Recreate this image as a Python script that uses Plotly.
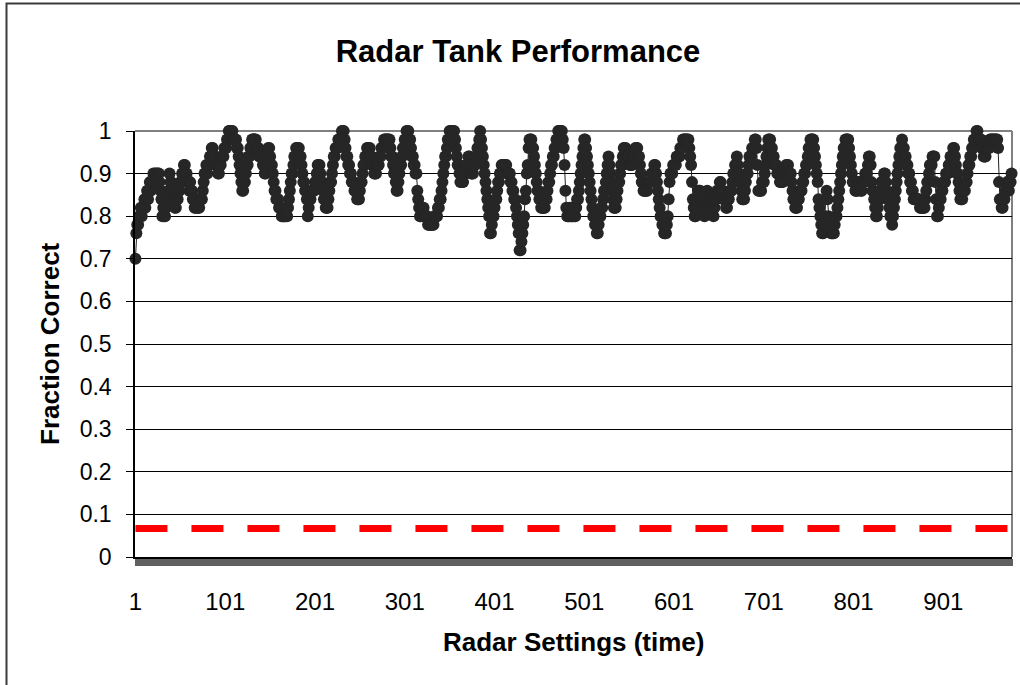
import plotly.graph_objects as go

# Fraction correct in percent, one value per radar setting
pct_correct = [
    70,76,78,78,80,80,82,80,82,82,
    84,82,84,86,84,86,88,86,88,88,
    90,88,90,90,88,90,90,88,86,84,
    80,82,80,80,82,84,84,86,90,88,
    88,86,84,84,82,82,84,84,86,86,
    88,88,90,90,92,92,90,90,88,88,
    86,88,86,86,84,84,82,82,84,82,
    82,82,84,84,84,86,88,90,90,92,
    90,92,92,94,94,96,96,94,94,94,
    92,92,90,90,92,92,94,94,94,96,
    96,96,98,98,100,100,100,100,100,98,
    98,98,98,96,96,94,92,90,88,86,
    86,88,88,90,92,92,94,94,96,96,
    98,98,98,98,98,96,96,96,94,94,
    94,94,92,92,90,90,92,94,96,96,
    94,92,92,90,88,86,86,84,84,84,
    82,82,82,80,80,80,80,80,82,80,
    82,84,86,88,90,90,92,94,94,96,
    96,96,96,94,94,92,90,88,88,86,
    86,84,80,82,84,84,86,86,86,86,
    88,88,90,92,92,92,90,88,88,86,
    84,84,82,82,82,84,86,88,88,90,
    92,94,94,96,96,96,98,98,98,98,
    100,100,100,98,96,94,94,92,92,90,
    90,88,88,88,86,86,86,84,84,84,
    86,88,88,90,92,92,94,94,96,96,
    96,96,94,94,92,92,90,90,90,92,
    92,92,94,94,96,96,96,98,98,98,
    98,98,98,98,96,94,94,92,90,90,
    88,86,86,88,90,92,92,94,96,96,
    98,98,100,100,100,98,98,96,94,94,
    92,92,90,90,86,84,82,80,80,82,
    82,82,80,80,80,80,78,78,78,78,
    78,78,78,80,80,80,80,82,82,84,
    84,86,88,90,92,94,94,96,98,98,
    100,100,100,100,100,100,98,96,94,92,
    92,90,88,88,88,88,90,90,92,92,
    92,94,94,92,90,90,90,92,92,94,
    94,96,96,98,100,98,96,94,92,90,
    88,86,84,82,80,76,76,78,80,80,
    82,84,84,86,88,88,90,90,92,92,
    92,92,92,92,90,90,90,90,88,88,
    86,86,84,84,82,80,78,76,72,72,
    74,76,78,80,84,86,90,92,96,98,
    98,98,96,96,94,92,90,88,86,86,
    84,84,82,82,82,82,82,84,84,86,
    88,88,90,92,92,94,94,96,96,98,
    98,100,100,100,100,100,98,96,92,86,
    82,80,80,80,82,80,80,80,82,80,
    80,82,84,84,86,88,90,92,94,96,
    98,98,96,94,92,90,88,86,84,82,
    80,80,78,78,76,76,78,80,80,82,
    82,84,86,86,88,90,92,94,92,90,
    88,86,84,82,82,82,84,86,88,88,
    90,92,92,94,96,96,96,94,94,94,
    94,92,92,92,94,94,94,96,96,96,
    94,94,92,90,88,88,86,86,86,86,
    86,88,88,88,88,90,90,90,92,92,
    90,88,86,84,82,80,80,78,78,76,
    76,76,78,80,84,88,90,90,90,92,
    92,92,92,94,94,94,94,96,96,96,
    98,98,98,98,98,98,98,96,94,92,
    88,84,82,80,80,82,84,86,86,86,
    84,84,82,82,80,82,84,86,84,82,
    82,84,84,82,80,82,84,84,86,86,
    86,88,88,86,86,84,84,84,82,82,
    84,84,86,86,86,88,90,90,92,92,
    94,92,90,88,88,86,84,84,84,86,
    88,90,90,92,94,94,94,96,96,96,
    98,98,96,92,86,86,86,86,88,88,
    88,90,92,94,96,98,98,98,96,96,
    94,94,92,92,92,90,90,90,88,88,
    88,88,90,90,90,92,92,92,90,90,
    90,88,86,84,84,82,82,82,84,84,
    86,86,86,88,88,90,90,92,92,94,
    96,96,98,98,98,98,96,94,92,90,
    88,84,82,80,78,76,76,78,80,84,
    86,84,80,78,78,76,76,76,76,78,
    80,80,82,84,86,88,90,92,94,96,
    96,98,98,98,98,96,94,92,90,88,
    88,88,86,86,86,88,88,88,86,86,
    88,88,88,90,90,90,92,94,94,92,
    88,86,86,84,82,80,80,82,84,84,
    86,88,88,88,90,90,88,86,84,84,
    82,80,80,78,80,82,84,86,88,90,
    92,94,96,96,98,96,96,94,94,92,
    92,90,90,88,88,86,86,84,84,84,
    84,84,84,84,82,82,82,82,82,82,
    84,86,88,88,90,92,92,92,94,94,
    94,88,84,80,80,82,84,84,86,86,
    88,88,88,90,90,90,92,92,94,94,
    94,96,96,94,92,90,90,88,86,84,
    84,84,86,86,86,88,88,90,92,92,
    94,94,96,96,98,98,98,100,100,98,
    98,98,98,96,96,94,94,94,96,96,
    96,96,98,98,98,98,98,98,98,98,
    98,96,88,84,84,82,82,84,84,86,
    86,88,88,86,88,88,90,
]
chance_level = 1 / 15

fraction_correct = [p / 100 for p in pct_correct]
settings = list(range(1, len(fraction_correct) + 1))
n = len(settings)

x_tick_vals = [1, 101, 201, 301, 401, 501, 601, 701, 801, 901]
x_tick_text = [str(v) for v in x_tick_vals]
y_tick_vals = [0, 0.1, 0.2, 0.3, 0.4, 0.5, 0.6, 0.7, 0.8, 0.9, 1.0]
y_tick_text = ["0", "0.1", "0.2", "0.3", "0.4", "0.5", "0.6", "0.7", "0.8", "0.9", "1"]

FONT = "Arial, Liberation Sans, sans-serif"

fig = go.Figure()

fig.add_trace(go.Scatter(
    x=settings, y=[chance_level] * n, mode="lines",
    line=dict(color="#FF0000", width=7, dash="32px,24px"),
    hoverinfo="skip", showlegend=False, cliponaxis=False,
))

fig.add_trace(go.Scatter(
    x=settings, y=fraction_correct, mode="lines+markers",
    line=dict(color="#222222", width=1),
    marker=dict(symbol="circle", size=12, color="#262626", line=dict(width=0)),
    showlegend=False, cliponaxis=False,
))

W, H = 1020, 685
L, R, T, B = 135, 8, 131, 128
pw, ph = W - L - R, H - T - B

def px_x(x):
    return (x - L) / pw

def px_y(y):
    return (H - B - y) / ph

fig.update_layout(
    width=W, height=H,
    margin=dict(l=L, r=R, t=T, b=B, pad=0),
    paper_bgcolor="white", plot_bgcolor="white",
    font=dict(family=FONT, color="black"),
    title=dict(text="<b>Radar Tank Performance</b>", xref="container", yref="container",
               x=518 / W, y=1 - 51 / H, xanchor="center", yanchor="middle",
               font=dict(size=31, family=FONT, color="black")),
    xaxis=dict(
        range=[0.5, n + 0.5], showgrid=False, zeroline=False,
        showline=True, linecolor="black", linewidth=1.5,
        tickmode="array", tickvals=x_tick_vals, ticktext=x_tick_text,
        ticks="", tickfont=dict(size=24, family=FONT, color="black"),
        ticklabelstandoff=22,
        minor=dict(tick0=0.5, dtick=1, ticks="outside", ticklen=7,
                   tickcolor="#606060", tickwidth=1, showgrid=False),
    ),
    yaxis=dict(
        range=[0, 1], showgrid=True, gridcolor="black", gridwidth=1,
        zeroline=False, showline=True, linecolor="black", linewidth=1.5,
        tickmode="array", tickvals=y_tick_vals, ticktext=y_tick_text,
        ticks="outside", ticklen=7, tickcolor="black", tickwidth=1,
        tickfont=dict(size=23, family=FONT, color="black"),
        ticklabelstandoff=10,
    ),
    annotations=[
        dict(text="<b>Fraction Correct</b>", xref="paper", yref="paper",
             x=px_x(50), y=0.5, xanchor="center", yanchor="middle",
             textangle=-90, showarrow=False,
             font=dict(size=26, family=FONT, color="black")),
        dict(text="<b>Radar Settings (time)</b>", xref="paper", yref="paper",
             x=0.5, y=px_y(642), xanchor="center", yanchor="middle",
             showarrow=False, font=dict(size=26, family=FONT, color="black")),
    ],
    shapes=[
        dict(type="line", xref="paper", yref="paper", x0=0, x1=1, y0=1, y1=1,
             line=dict(color="#808080", width=2), layer="between"),
        dict(type="line", xref="paper", yref="paper", x0=1, x1=1, y0=0, y1=1,
             line=dict(color="#808080", width=2), layer="between"),
        dict(type="rect", xref="paper", yref="paper",
             x0=px_x(6.5), x1=px_x(1040), y0=px_y(720), y1=px_y(3.5),
             line=dict(color="#3a3a3a", width=2), fillcolor="rgba(0,0,0,0)"),
    ],
)

fig.write_html("out.html")
